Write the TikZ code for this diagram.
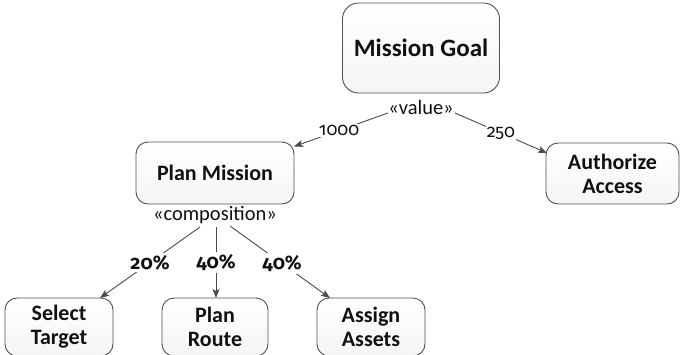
\documentclass[tikz,border=0pt]{standalone}
\usepackage{fontspec}
\setmainfont{Carlito}
\newfontfamily\numfont{Fira Sans}[Numbers=OldStyle]
\usetikzlibrary{arrows.meta}
\definecolor{edgegray}{HTML}{4A4A4A}
\definecolor{boxline}{HTML}{505050}
\definecolor{ink}{HTML}{111111}
\tikzset{
  box/.style={draw=boxline, line width=0.9pt, rounded corners=12pt,
    top color=white, bottom color=black!4, text=ink, align=center,
    font=\fontsize{22}{24}\selectfont\bfseries, inner sep=0pt},
  link/.style={draw=edgegray, line width=0.9pt,
    -{Stealth[length=9pt,width=7pt,inset=2pt]}},
  weight/.style={fill=white, text=ink, inner sep=1pt,
    font=\numfont\fontsize{18}{22}\selectfont},
  share/.style={fill=white, text=ink, inner sep=2pt,
    font=\numfont\fontsize{19.5}{22}\selectfont\bfseries},
  stereo/.style={text=ink, inner sep=0pt, font=\fontsize{20.5}{22}\selectfont}
}
\begin{document}
\begin{tikzpicture}[x=1pt,y=-1pt]
  \useasboundingbox (0,0) rectangle (680,354);
  \begin{scope}
    \clip (0,0) rectangle (680,354);
    % tree nodes
    \node[box, rounded corners=16pt, minimum width=157pt, minimum height=90pt,
      font=\fontsize{25}{28}\selectfont\bfseries] (goal) at (421,48) {Mission Goal};
    \node[box, minimum width=158pt, minimum height=62pt] (plan) at (215,173) {Plan Mission};
    \node[box, minimum width=133pt, minimum height=61pt] (auth) at (612.5,173.5) {Authorize\\Access};
    \node[box, minimum width=108pt, minimum height=58pt] (sel) at (59,327) {Select\\Target};
    \node[box, minimum width=106pt, minimum height=58pt] (route) at (215,327) {Plan\\Route};
    \node[box, minimum width=108pt, minimum height=58pt] (assign) at (371,327) {Assign\\Assets};
  \end{scope}

  % stereotype labels under the parents
  \node[stereo] (val) at (421,107) {«value»};
  \node[stereo] (comp) at (215,215) {«composition»};

  % connector end points
  \coordinate (v1) at (388,113);
  \coordinate (v2) at (455,113);
  \coordinate (p1) at (294,146.5);
  \coordinate (a1) at (547,153);
  \coordinate (c1) at (200,227);
  \coordinate (c2) at (216,227);
  \coordinate (c3) at (230,226);
  \coordinate (s1) at (100,298);
  \coordinate (r1) at (216,298);
  \coordinate (g1) at (330,298);

  % weighted links
  \draw[link] (v1) -- node[weight, pos=0.52] (w1) {1000} (p1);
  \draw[link] (v2) -- node[weight, pos=0.5] (w2) {250} (a1);
  \draw[link] (c1) -- node[share, pos=0.5] (w3) {20\%} (s1);
  \draw[link] (c2) -- node[share, pos=0.5] (w4) {40\%} (r1);
  \draw[link] (c3) -- node[share, pos=0.52] (w5) {40\%} (g1);
\end{tikzpicture}
\end{document}
